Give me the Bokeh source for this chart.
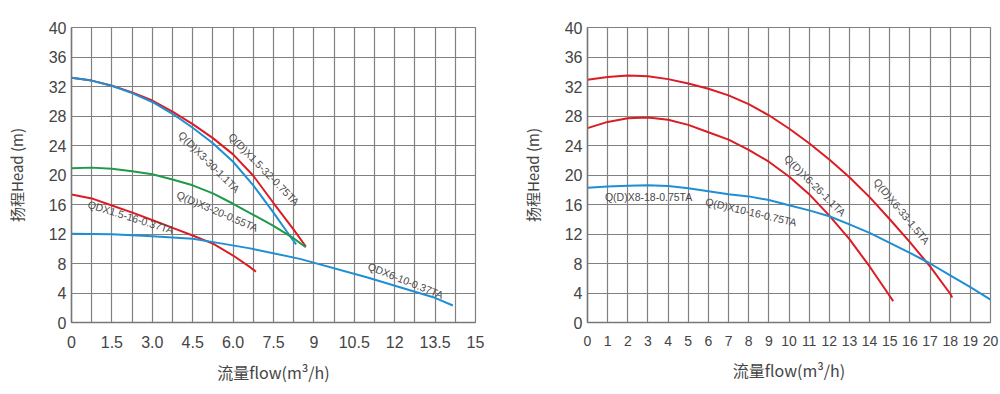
from bokeh.plotting import figure
from bokeh.models import FixedTicker, Range1d
from bokeh.layouts import row
from bokeh.embed import file_html
from bokeh.resources import INLINE
from bokeh.core.properties import value

# ---------------- data ----------------
y_ticks = [0, 4, 8, 12, 16, 20, 24, 28, 32, 36, 40]
left_x_ticks = [0, 1.5, 3, 4.5, 6, 7.5, 9, 10.5, 12, 13.5, 15]
left_x_labels = ["0", "1.5", "3.0", "4.5", "6.0", "7.5", "9", "10.5", "12", "13.5", "15"]
right_x_ticks = [0, 1, 2, 3, 4, 5, 6, 7, 8, 9, 10, 11, 12, 13, 14, 15, 16, 17, 18, 19, 20]

# left chart curves (flow m3/h, head m)
l_red32_q = [0, 0.75, 1.5, 2.25, 3, 3.75, 4.5, 5.25, 6, 6.75, 7.5, 8.25, 8.7]
l_red32_h = [33.2, 32.8, 32.1, 31.2, 30.1, 28.6, 26.9, 25.0, 22.8, 19.9, 16.2, 12.6, 10.3]
l_blue30_q = [0, 0.75, 1.5, 2.25, 3, 3.75, 4.5, 5.25, 6, 6.75, 7.5, 8.0, 8.34]
l_blue30_h = [33.2, 32.8, 32.1, 31.1, 29.9, 28.3, 26.4, 24.3, 21.8, 18.6, 14.9, 12.3, 10.6]
l_green20_q = [0, 0.75, 1.5, 2.25, 3, 3.75, 4.5, 5.25, 6, 6.75, 7.5, 8.25, 8.7]
l_green20_h = [20.9, 21.0, 20.85, 20.5, 20.1, 19.4, 18.6, 17.5, 16.1, 14.6, 13.1, 11.4, 10.2]
l_red16_q = [0, 0.8, 1.5, 2.29, 3.04, 3.78, 4.5, 5.27, 6.0, 6.63, 6.85]
l_red16_h = [17.36, 16.77, 15.86, 14.87, 13.83, 12.79, 11.8, 10.67, 9.08, 7.5, 6.9]
l_blue10_q = [0, 1.5, 3, 4.5, 5.27, 6.63, 8.48, 10.96, 13.43, 14.16]
l_blue10_h = [12.05, 11.95, 11.7, 11.35, 10.9, 10.05, 8.63, 6.14, 3.43, 2.3]

left_labels = ["Q(D)X1.5-32-0.75TA", "Q(D)X3-30-1.1TA", "Q(D)X3-20-0.55TA",
               "QDX1.5-16-0.37TA", "QDX6-10-0.37TA"]
left_label_q = [7.15, 5.11, 5.42, 2.2, 12.41]
left_label_h = [20.8, 21.8, 15.1, 14.3, 5.7]
left_label_deg = [-45.7, -45, -23.2, -17.4, -21.8]

# right chart curves
r_red33_q = [0, 1, 2, 3, 4, 5, 6, 7, 8, 9, 10, 11, 12, 13, 14, 15, 16, 17, 18, 18.1]
r_red33_h = [32.9, 33.3, 33.5, 33.4, 33.0, 32.4, 31.7, 30.8, 29.6, 28.1, 26.3, 24.3,
             22.1, 19.7, 17.0, 14.0, 10.9, 7.6, 3.9, 3.4]
r_red26_q = [0, 1, 2, 3, 4, 5, 6, 7, 8, 9, 10, 11, 12, 13, 14, 15, 15.17]
r_red26_h = [26.35, 27.2, 27.7, 27.8, 27.5, 26.8, 25.8, 24.8, 23.4, 21.8, 19.8, 17.4,
             14.5, 11.3, 7.6, 3.6, 2.9]
r_blue_q = [0, 1, 2, 3, 4, 5, 6, 7, 8, 9, 10, 11, 12, 13, 14, 15, 16, 17, 18, 19, 20]
r_blue_h = [18.27, 18.45, 18.55, 18.6, 18.5, 18.2, 17.8, 17.4, 17.1, 16.6, 15.9, 15.2,
            14.4, 13.3, 12.15, 10.8, 9.45, 8.0, 6.4, 4.8, 3.1]

right_labels = ["Q(D)X8-18-0.75TA", "Q(D)X10-16-0.75TA", "Q(D)X6-26-1.1TA", "Q(D)X6-33-1.5TA"]
right_label_q = [3.03, 8.12, 11.3, 15.6]
right_label_h = [17.0, 15.0, 18.6, 15.1]
right_label_deg = [0, -13.3, -45, -50.6]

# ---------------- style ----------------
RED = "#dc1c24"
BLUE = "#1f8fd3"
GREEN = "#1e9a48"
GRID = "#808080"
TICK_FONT = "Liberation Sans"
CJK = "Noto Sans CJK SC"


def make_fig(width, bl, br, x_end, x_step, ticks, x_font_size):
    p = figure(width=width, height=394, output_backend="svg", toolbar_location=None,
               x_range=Range1d(0, x_end), y_range=Range1d(0, 40),
               min_border_left=bl, min_border_right=br, min_border_top=27,
               min_border_bottom=72, background_fill_color="white",
               border_fill_color="white")
    n = int(round(x_end / x_step))
    p.xaxis.ticker = FixedTicker(ticks=ticks)
    p.yaxis.ticker = FixedTicker(ticks=y_ticks)
    p.xgrid.ticker = FixedTicker(ticks=[i * x_step for i in range(n + 1)])
    p.ygrid.ticker = FixedTicker(ticks=y_ticks)
    for g in (p.xgrid, p.ygrid):
        g.grid_line_color = GRID
        g.grid_line_width = 1.2
    p.outline_line_color = GRID
    p.outline_line_width = 1.2
    for ax in (p.xaxis, p.yaxis):
        ax.axis_line_color = "#777777"
        ax.axis_line_width = 1.5
        ax.major_tick_line_color = None
        ax.minor_tick_line_color = None
        ax.major_tick_out = 0
        ax.major_tick_in = 0
        ax.minor_tick_out = 0
        ax.minor_tick_in = 0
        ax.major_label_text_font = TICK_FONT
        ax.major_label_text_color = "#444444"
        ax.axis_label_text_font = CJK
        ax.axis_label_text_font_style = "normal"
        ax.axis_label_text_color = "#444444"
    p.yaxis.major_label_text_font_size = "16px"
    p.xaxis.major_label_text_font_size = x_font_size
    p.xaxis.major_label_standoff = 13
    p.yaxis.major_label_standoff = 5
    p.xaxis.axis_label = "流量flow(m³/h)"
    p.yaxis.axis_label = "扬程Head (m)"
    p.xaxis.axis_label_text_font_size = "16px"
    p.yaxis.axis_label_text_font_size = "15px"
    p.xaxis.axis_label_standoff = 9
    p.yaxis.axis_label_standoff = 19
    return p


left = make_fig(516, 71, 41, 15, 0.75, left_x_ticks, "16px")
left.xaxis.major_label_overrides = {t: s for t, s in zip(left_x_ticks, left_x_labels)}
left.line(l_red32_q, l_red32_h, line_color=RED, line_width=2)
left.line(l_blue30_q, l_blue30_h, line_color=BLUE, line_width=2)
left.line(l_green20_q, l_green20_h, line_color=GREEN, line_width=2)
left.line(l_red16_q, l_red16_h, line_color=RED, line_width=2)
left.line(l_blue10_q, l_blue10_h, line_color=BLUE, line_width=2)
left.text(left_label_q, left_label_h, text=left_labels,
          angle=left_label_deg, angle_units="deg",
          text_font=value("Liberation Sans"), text_font_size="10.5px",
          text_color="#4a4a4a", text_align="center", text_baseline="middle")

right = make_fig(484, 71, 10, 20, 1, right_x_ticks, "14px")
right.line(r_red33_q, r_red33_h, line_color=RED, line_width=2)
right.line(r_red26_q, r_red26_h, line_color=RED, line_width=2)
right.line(r_blue_q, r_blue_h, line_color=BLUE, line_width=2)
right.text(right_label_q, right_label_h, text=right_labels,
           angle=right_label_deg, angle_units="deg",
           text_font=value("Liberation Sans"), text_font_size="10.5px",
           text_color="#4a4a4a", text_align="center", text_baseline="middle")

layout = row(left, right)
open("out.html", "w").write(file_html(layout, INLINE))
